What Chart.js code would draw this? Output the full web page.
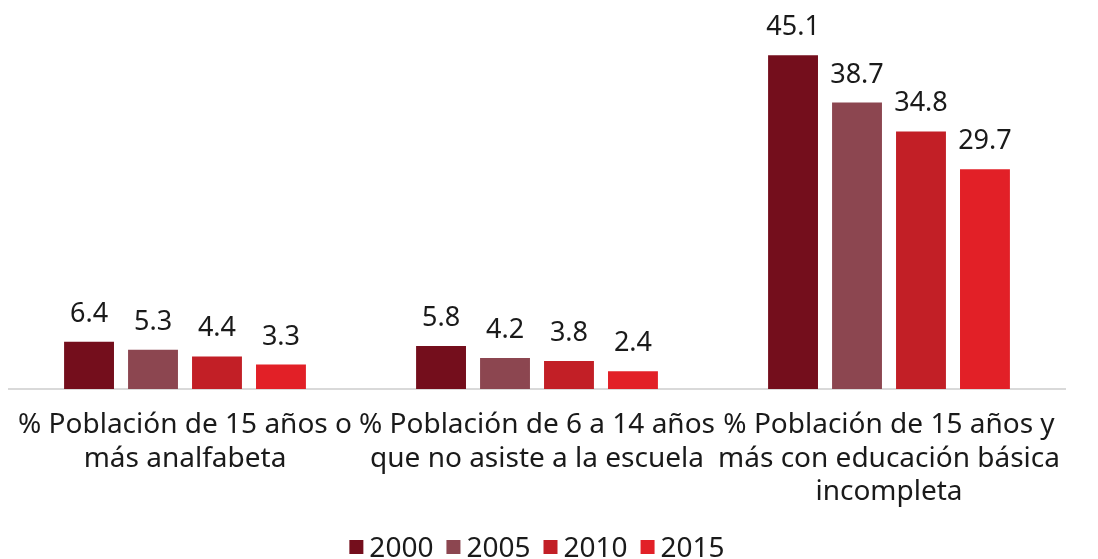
<!DOCTYPE html>
<html>
<head>
    <title>Indicadores de educación</title>
    <script src="https://cdn.jsdelivr.net/npm/chart.js"></script>
    <style>
        body { margin: 0; background: #fff; }
        #caja { width: 1098px; height: 559px; }
    </style>
</head>
<body>
    <div id="caja"><canvas id="grafico"></canvas></div>

    <script>
        // Datos del gráfico
        const categorias = [
            ['% Población de 15 años o', 'más analfabeta'],
            ['% Población de 6 a 14 años', 'que no asiste a la escuela'],
            ['% Población de 15 años y', 'más con educación básica', 'incompleta']
        ];
        const anios = ['2000', '2005', '2010', '2015'];
        const v2000 = [6.4, 5.8, 45.1];
        const v2005 = [5.3, 4.2, 38.7];
        const v2010 = [4.4, 3.8, 34.8];
        const v2015 = [3.3, 2.4, 29.7];
        const colores = ['#740e1c', '#8c4650', '#c21f26', '#e22027'];

        const fuente = "'Noto Sans', sans-serif";
        const colorTexto = '#1a1a1a';

        // etiquetas encima de cada barra
        const etiquetas = {
            id: 'etiquetas',
            afterDatasetsDraw(chart) {
                const ctx = chart.ctx;
                ctx.save();
                ctx.font = '27px ' + fuente;
                ctx.fillStyle = colorTexto;
                ctx.textAlign = 'center';
                ctx.textBaseline = 'alphabetic';
                chart.data.datasets.forEach((ds, i) => {
                    chart.getDatasetMeta(i).data.forEach((barra, j) => {
                        ctx.fillText(ds.data[j].toFixed(1), barra.x, barra.y - 20);
                    });
                });
                ctx.restore();
            }
        };

        // leyenda abajo, cuadrito pegado al texto
        const leyenda = {
            id: 'leyenda',
            afterDraw(chart) {
                const ctx = chart.ctx;
                const caja = 14, hueco = 6, sep = 13;
                ctx.save();
                ctx.font = '28px ' + fuente;
                ctx.textBaseline = 'alphabetic';
                ctx.textAlign = 'left';
                const items = chart.data.datasets.map(ds => ({
                    texto: ds.label, color: ds.backgroundColor, ancho: ctx.measureText(ds.label).width
                }));
                let total = 0;
                items.forEach(it => total += caja + hueco + it.ancho);
                total += sep * (items.length - 1);
                const area = chart.chartArea;
                let x = (area.left + area.right) / 2 - total / 2;
                const base = chart.height - 2;
                items.forEach(it => {
                    ctx.fillStyle = it.color;
                    ctx.fillRect(x, base - 17, caja, caja);
                    x += caja + hueco;
                    ctx.fillStyle = colorTexto;
                    ctx.fillText(it.texto, x, base);
                    x += it.ancho + sep;
                });
                ctx.restore();
            }
        };

        const series = [v2000, v2005, v2010, v2015];
        const datos = {
            labels: categorias,
            datasets: series.map((s, i) => ({
                label: anios[i],
                data: s,
                backgroundColor: colores[i],
                categoryPercentage: 0.727,
                barPercentage: 0.78
            }))
        };

        const configuracion = {
            type: 'bar',
            data: datos,
            options: {
                responsive: true,
                maintainAspectRatio: false,
                animation: false,
                layout: { padding: { left: 9, right: 33, top: 19, bottom: 0 } },
                plugins: {
                    tooltip: { enabled: false },
                    legend: { display: false }
                },
                scales: {
                    x: {
                        // eje + etiquetas + sitio para la leyenda
                        afterFit(scale) { scale.height = 170; },
                        grid: { display: false },
                        border: { color: '#d9d9d9', width: 2 },
                        ticks: {
                            color: colorTexto,
                            font: { family: fuente, size: 28, lineHeight: 1.18 },
                            maxRotation: 0,
                            autoSkip: false,
                            padding: 12
                        }
                    },
                    y: {
                        display: false,
                        beginAtZero: true,
                        max: 50
                    }
                }
            },
            plugins: [etiquetas, leyenda]
        };

        var ctx = document.getElementById('grafico').getContext('2d');
        var miGrafico = new Chart(ctx, configuracion);
    </script>
</body>
</html>
